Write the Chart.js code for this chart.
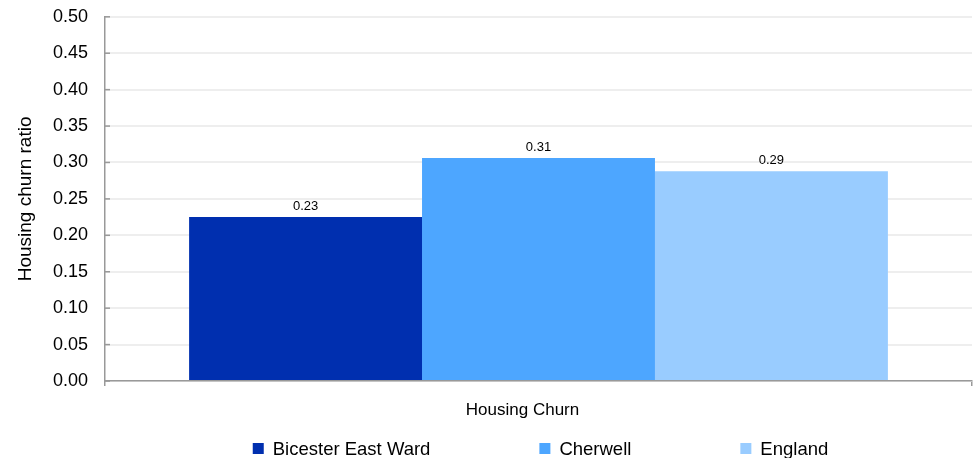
<!DOCTYPE html>
<html>
<head>
<meta charset="utf-8">
<script src="https://cdn.jsdelivr.net/npm/chart.js@4/dist/chart.umd.min.js"></script>
<style>
  html, body { margin: 0; padding: 0; background: #fff; }
  #wrap { width: 980px; height: 458px; }
</style>
</head>
<body>
<div id="wrap"><canvas id="churn_chart"></canvas></div>
<script>
// Data
const categories = ['Housing Churn']
const seriesNames = ['Bicester East Ward', 'Cherwell', 'England']
const seriesValues = [[0.225], [0.306], [0.288]]
const seriesColors = ['#002FAF', '#4DA6FF', '#99CCFF']
const yTicks = [0, 0.05, 0.1, 0.15, 0.2, 0.25, 0.3, 0.35, 0.4, 0.45, 0.5]
const xTitle = 'Housing Churn'
const yTitle = 'Housing churn ratio'

const FONT = '"Liberation Sans", Arial, sans-serif'
const ctx_churn = document.getElementById('churn_chart')
Chart.defaults.font.family = FONT
Chart.defaults.color = '#000'

// draws the value above each bar
const valueLabels = {
  id: 'valueLabels',
  afterDatasetsDraw(chart) {
    const c = chart.ctx
    c.save()
    c.font = '13px ' + FONT
    c.fillStyle = '#000'
    c.textAlign = 'center'
    c.textBaseline = 'alphabetic'
    chart.data.datasets.forEach((ds, i) => {
      chart.getDatasetMeta(i).data.forEach((bar, j) => {
        c.fillText(ds.data[j].toFixed(2), bar.x, bar.y - 7)
      })
    })
    c.restore()
  }
}

// short tick marks inside the y axis
const innerTicks = {
  id: 'innerTicks',
  afterDraw(chart) {
    const c = chart.ctx
    const y = chart.scales.y
    c.save()
    c.strokeStyle = '#999'
    c.lineWidth = 1.5
    yTicks.forEach(v => {
      const py = y.getPixelForValue(v)
      c.beginPath()
      c.moveTo(y.right, py)
      c.lineTo(y.right + 5, py)
      c.stroke()
    })
    c.restore()
  }
}

// x title and legend under the plot
const bottomLegend = {
  id: 'bottomLegend',
  afterDraw(chart) {
    const c = chart.ctx
    const area = chart.chartArea
    const mid = (area.left + area.right) / 2
    c.save()
    c.fillStyle = '#000'
    c.textBaseline = 'middle'
    c.textAlign = 'center'
    c.font = '17px ' + FONT
    c.fillText(xTitle, mid - 16, area.bottom + 29)

    c.textAlign = 'left'
    c.font = '18.5px ' + FONT
    const box = 11, gapText = 9, gapItem = 109
    const widths = seriesNames.map(n => box + gapText + c.measureText(n).width)
    const total = widths.reduce((a, b) => a + b, 0) + gapItem * (widths.length - 1)
    let x = mid - total / 2 + 2
    const cy = area.bottom + 67.5
    seriesNames.forEach((name, i) => {
      c.fillStyle = seriesColors[i]
      c.fillRect(x, cy - box / 2, box, box)
      c.fillStyle = '#000'
      c.fillText(name, x + box + gapText, cy + 1)
      x += widths[i] + gapItem
    })
    c.restore()
  }
}

const datasets = seriesNames.map((name, i) => ({
  label: name,
  data: seriesValues[i],
  backgroundColor: seriesColors[i],
  barPercentage: 1,
  categoryPercentage: 0.806
}))

new Chart(ctx_churn, {
  type: 'bar',
  data: { labels: categories, datasets: datasets },
  plugins: [valueLabels, innerTicks, bottomLegend],
  options: {
    responsive: true,
    maintainAspectRatio: false,
    animation: false,
    layout: { padding: { top: 2, right: 8, left: 10, bottom: 72 } },
    plugins: {
      tooltip: { enabled: false },
      legend: { display: false }
    },
    scales: {
      x: {
        grid: { display: true, drawOnChartArea: false, offset: true, color: '#999', lineWidth: 1.5, tickLength: 5 },
        border: { color: '#999', width: 1.5 },
        ticks: { display: false }
      },
      y: {
        min: 0,
        max: 0.5,
        afterBuildTicks: axis => { axis.ticks = yTicks.map(v => ({ value: v })) },
        ticks: {
          font: { size: 18 },
          padding: 6,
          callback: v => v.toFixed(2)
        },
        grid: { color: '#eeeeee', lineWidth: 2, drawTicks: true, tickLength: 11, tickColor: 'rgba(0,0,0,0)' },
        border: { color: '#999', width: 1.5 },
        title: { display: true, text: yTitle, font: { size: 19 }, padding: { bottom: 0 } },
        afterFit: axis => { axis.width = 95 }
      }
    }
  }
})
</script>
</body>
</html>
